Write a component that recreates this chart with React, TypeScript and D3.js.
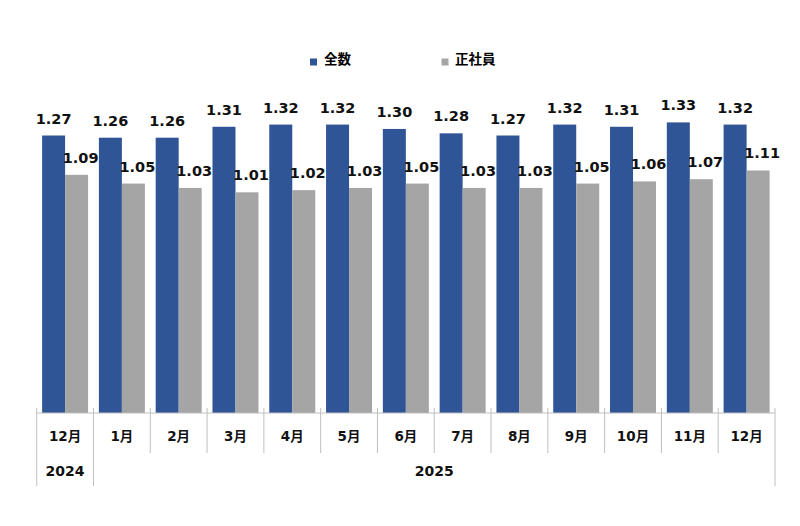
import React from "react";
import * as d3 from "d3";

const months = ["12月", "1月", "2月", "3月", "4月", "5月", "6月", "7月", "8月", "9月", "10月", "11月", "12月"];
const years = ["2024", "2025"];
const yearSpans = [1, 12];
const seriesNames = ["全数", "正社員"];
const allValues = [1.27, 1.26, 1.26, 1.31, 1.32, 1.32, 1.30, 1.28, 1.27, 1.32, 1.31, 1.33, 1.32];
const regularValues = [1.09, 1.05, 1.03, 1.01, 1.02, 1.03, 1.05, 1.03, 1.03, 1.05, 1.06, 1.07, 1.11];
const colors = ["#2F5597", "#A5A5A5"];

export default function App() {
  const W = 800, H = 526;
  const left = 36.7, right = 775, base = 413;
  const font = "Verdana, 'DejaVu Sans', 'Noto Sans CJK JP', sans-serif";
  const idx = months.map((_, i) => String(i));
  const x = d3.scaleBand().domain(idx).range([left, right]).paddingInner(0).paddingOuter(0);
  const inner = d3.scaleBand().domain(["0", "1"]).range([5.4, x.bandwidth() - 5.4]).padding(0);
  const y = d3.scaleLinear().domain([0, 1]).range([base, base - 218.5]);
  const series = [allValues, regularValues];

  const yearBounds: number[] = [];
  let acc = 0;
  yearBounds.push(acc);
  yearSpans.forEach((s) => { acc += s; yearBounds.push(acc); });

  return (
    <svg width={W} height={H} style={{ position: "absolute", left: 0, top: 0, background: "#fff" }} fontFamily={font}>
      {/* legend */}
      <rect x={310} y={58.5} width={7} height={7} fill={colors[0]} />
      <text x={324} y={60} dominantBaseline="middle" fontSize={13.5} fontWeight="bold" fontFamily="'Noto Sans CJK JP', sans-serif">{seriesNames[0]}</text>
      <rect x={441.5} y={58.5} width={7} height={7} fill={colors[1]} />
      <text x={455} y={60} dominantBaseline="middle" fontSize={13.5} fontWeight="bold" fontFamily="'Noto Sans CJK JP', sans-serif">{seriesNames[1]}</text>

      {/* bars */}
      {series.map((vals, si) =>
        vals.map((v, i) => {
          const bx = (x(String(i)) as number) + (inner(String(si)) as number);
          const bw = inner.bandwidth();
          return (
            <g key={`${si}-${i}`}>
              <rect x={bx} y={y(v)} width={bw} height={base - y(v)} fill={colors[si]} />
              <text x={bx + bw / 2 + (si === 1 ? 4 : 0)} y={y(v) - 12} textAnchor="middle" fontSize={14.5} fontWeight="bold" fill="#111">
                {v.toFixed(2)}
              </text>
            </g>
          );
        })
      )}

      {/* axis */}
      <line x1={left} x2={right} y1={base} y2={base} stroke="#bfbfbf" strokeWidth={1} />
      {d3.range(months.length + 1).map((i) => {
        const xx = left + i * x.bandwidth();
        const long = yearBounds.includes(i);
        return <line key={i} x1={xx} x2={xx} y1={base - 5} y2={long ? 486 : 453} stroke="#bfbfbf" strokeWidth={1} />;
      })}
      {months.map((m, i) => (
        <text key={i} x={(x(String(i)) as number) + x.bandwidth() / 2} y={437} textAnchor="middle" dominantBaseline="middle" fontSize={13.5} fontWeight="bold" fill="#111">
          {m}
        </text>
      ))}
      {years.map((yr, k) => {
        const x0 = left + yearBounds[k] * x.bandwidth();
        const x1 = left + yearBounds[k + 1] * x.bandwidth();
        return (
          <text key={yr} x={(x0 + x1) / 2} y={472} textAnchor="middle" dominantBaseline="middle" fontSize={14} fontWeight="bold" fill="#111">
            {yr}
          </text>
        );
      })}
    </svg>
  );
}
